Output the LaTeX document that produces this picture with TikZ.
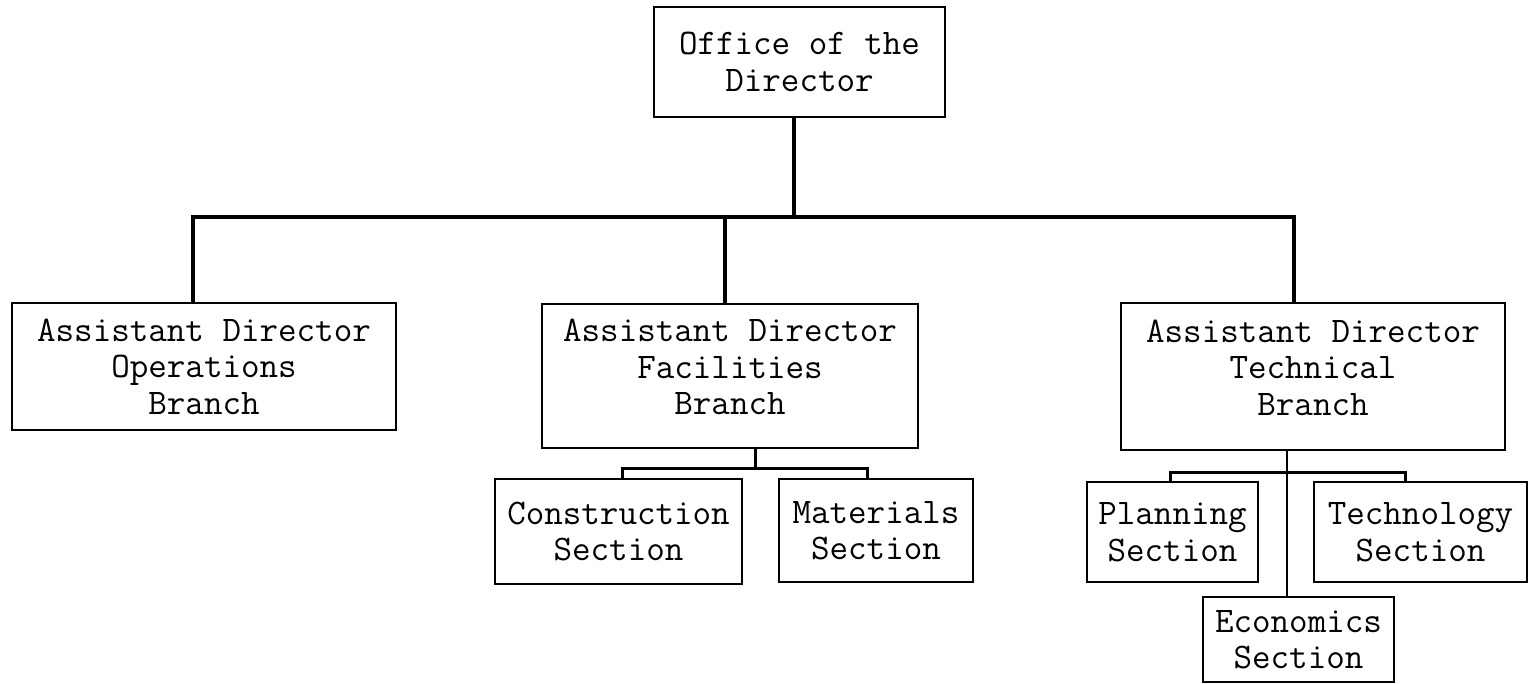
\documentclass[tikz,border=0pt]{standalone}
\begin{document}
\begin{tikzpicture}[x=1pt,y=-1pt,
  box/.style={draw, line width=2pt, inner sep=0pt, align=center,
    font=\ttfamily\fontsize{36}{36.5}\selectfont},
  raised/.style={text depth=18pt},
  mainline/.style={line width=4pt, line cap=rect},
  subline/.style={line width=3pt},
  thinline/.style={line width=2.5pt}]
\useasboundingbox (0,0) rectangle (1530,683);
% boxes: centre = ((l+r)/2,(t+b)/2), size = (r-l, b-t)
\node[box, minimum width=291, minimum height=110] (dir) at (799.5,62) {Office of the\\Director};
\node[box, minimum width=384, minimum height=127] (ops) at (204,366.5) {Assistant Director\\Operations\\Branch};
\node[box, raised, minimum width=376, minimum height=144] (fac) at (730,376) {Assistant Director\\Facilities\\Branch};
\node[box, raised, minimum width=384, minimum height=147] (tech) at (1313,376.5) {Assistant Director\\Technical\\Branch};
\node[box, minimum width=247, minimum height=105] (con) at (618.5,531.5) {Construction\\Section};
\node[box, minimum width=194, minimum height=103] (mat) at (876,530.5) {Materials\\Section};
\node[box, minimum width=171, minimum height=100] (pla) at (1172.5,532) {Planning\\Section};
\node[box, minimum width=213, minimum height=100] (tec) at (1420.5,532) {Technology\\Section};
\node[box, minimum width=191, minimum height=85] (eco) at (1298.5,639.5) {Economics\\Section};
% junctions
\coordinate (bl) at (193,217);
\coordinate (br) at (1294,217);
\coordinate (jd) at (794,217);
\coordinate (jf) at (725,217);
\coordinate (fb) at (755,468);
\coordinate (cl) at (622,468);
\coordinate (cr) at (867,468);
\coordinate (tb) at (1287,472);
\coordinate (pl) at (1170,472);
\coordinate (tr) at (1405,472);
% main connectors
\draw[mainline] (dir.south -| jd) -- (jd);
\draw[mainline, line join=miter] (ops.north -| bl) -- (bl) -- (br) -- (tech.north -| br);
\draw[mainline] (jf) -- (fac.north -| jf);
% facilities sections
\draw[subline] (fac.south -| fb) -- (fb);
\draw[subline, line join=miter] (con.north -| cl) -- (cl) -- (cr) -- (mat.north -| cr);
% technical sections
\draw[thinline] (tech.south -| tb) -- (eco.north -| tb);
\draw[subline, line join=miter] (pla.north -| pl) -- (pl) -- (tr) -- (tec.north -| tr);
\end{tikzpicture}
\end{document}
